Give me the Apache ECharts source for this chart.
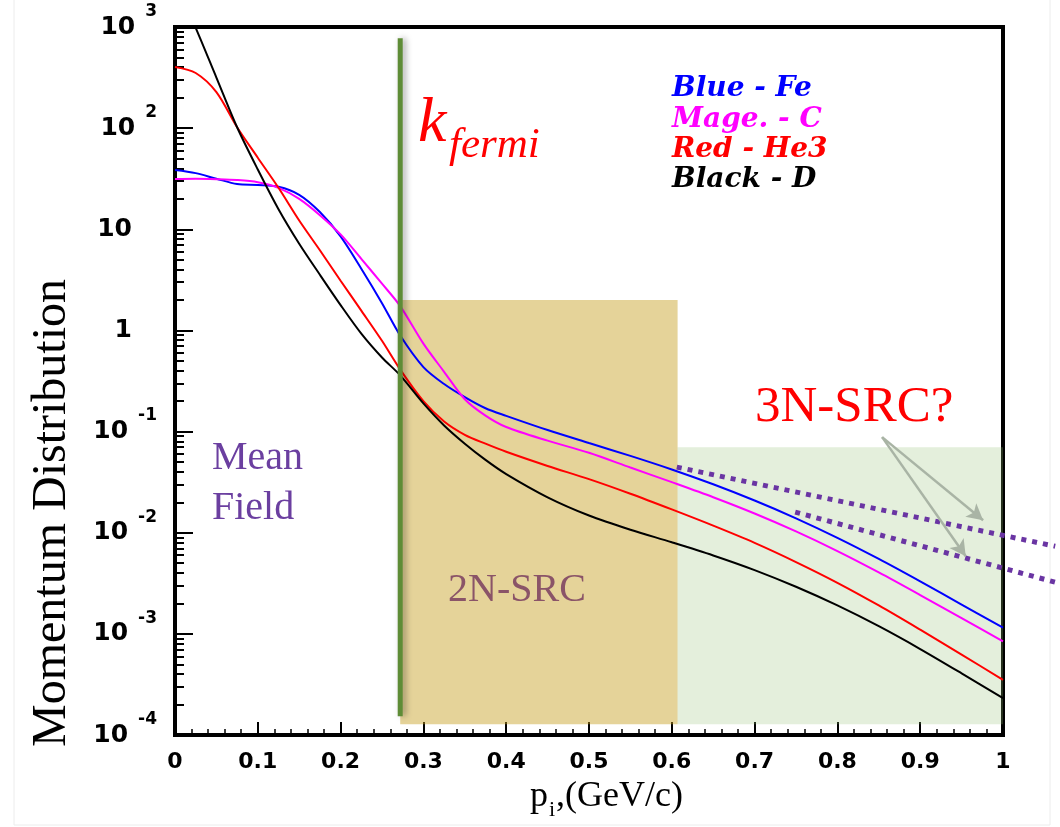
<!DOCTYPE html>
<html><head><meta charset="utf-8">
<script src="https://cdn.jsdelivr.net/npm/echarts@6/dist/echarts.min.js"></script>
<style>html,body{margin:0;padding:0;background:#fff}#c{width:1060px;height:827px}</style>
</head><body><div id="c"></div>
<script>
// ---- data ----
const xValues = [0,0.025,0.05,0.075,0.1,0.125,0.15,0.175,0.2,0.225,0.25,0.272,0.3,0.325,0.35,0.375,0.4,0.45,0.5,0.55,0.6,0.65,0.7,0.75,0.8,0.85,0.9,0.95,1.0];
const feBlue = [38.5,35.9,31.6,28,27.4,26.3,21.9,14.8,8.5,4.07,1.86,0.89,0.434,0.295,0.219,0.17,0.143,0.1035,0.077,0.0575,0.0422,0.0301,0.0208,0.01387,0.00889,0.0055,0.0033,0.00195,0.00115];
const cMagenta = [31.4,31.6,31.3,30.7,29.2,25.7,20,13.8,8.9,5.1,2.9,1.74,0.74,0.39,0.209,0.144,0.111,0.0813,0.0617,0.0441,0.0316,0.02244,0.01549,0.0103,0.00658,0.00405,0.00242,0.00143,0.000845];
const he3Red = [402,351,227,102,51,25.7,12.2,6.2,3.1,1.57,0.79,0.41,0.20,0.126,0.093,0.0759,0.0631,0.0457,0.0339,0.0243,0.0170,0.01175,0.00794,0.00513,0.0032,0.00191,0.0011,0.000624,0.000351];
const dBlack = [2800,980,316,102,39,15.8,7.2,3.55,1.78,0.93,0.54,0.36,0.19,0.115,0.0759,0.0525,0.038,0.0224,0.0148,0.0107,0.00804,0.00596,0.00427,0.00292,0.00191,0.00119,0.000708,0.000407,0.000231];
const kFermiLine = [[0.272,1.53e-4],[0.272,776]];
const twoNRegion = [[0.272,1.28e-4],[0.607,2.0]];
const threeNRegion = [[0.607,1.28e-4],[1.0,0.070]];
const dotted1 = [[0.606,0.0445],[1.063,0.00735]];
const dotted2 = [[0.749,0.0160],[1.066,0.00319]];
const arrowStart = [0.854,0.0881];
const arrowEnds = [[0.976,0.0133],[0.955,0.00586]];
const xTickLabels = ['0','0.1','0.2','0.3','0.4','0.5','0.6','0.7','0.8','0.9','1'];
const yDecades = [-4,-3,-2,-1,0,1,2,3];
const legendLines = ['Blue - Fe','Mage. - C','Red - He3','Black - D'];
const legendColors = ['#0000ff','#ff00ff','#ff0000','#000000'];

// minor tick positions (in exponent space) for the tick-only helper axis
const minorExp = [];
yDecades.slice(0,-1).forEach(d => { for (let k=2;k<=9;k++) minorExp.push(d + Math.log10(k)); });

const zip = ys => xValues.map((x,i)=>[x, ys[i]]);
const curve = (name, ys, color) => ({
  name, type:'line', data: zip(ys), smooth:0.3, showSymbol:false, symbol:'none',
  lineStyle:{color, width:2}, z:2, silent:true
});

const chart = echarts.init(document.getElementById('c'));
const serif = '"Liberation Serif","Times New Roman",serif';
const sans = '"DejaVu Sans",Arial,sans-serif';
const dotStyle = {color:'#6a35a3', width:5, type:[5,6], cap:'butt'};

chart.setOption({
  animation:false,
  backgroundColor:'#ffffff',
  grid:[
    {left:175, right:57, top:27, bottom:92, show:true, borderColor:'#000', borderWidth:4, outerBoundsMode:'none'},
    {left:175, width:886, top:27, bottom:92, show:false, outerBoundsMode:'none'}
  ],
  xAxis:[{
    type:'value', min:0, max:1, interval:0.1,
    axisLine:{show:true, onZero:false, lineStyle:{color:'#000', width:4}},
    axisTick:{show:true, inside:true, length:13, lineStyle:{color:'#000', width:2}},
    minorTick:{show:true, splitNumber:5, length:6, lineStyle:{color:'#000', width:1.5}},
    splitLine:{show:false},
    axisLabel:{margin:16, color:'#000', fontSize:22, fontWeight:'bold', fontFamily:sans,
      formatter: v => xTickLabels[Math.round(v*10)]}
  },{
    gridIndex:1, type:'value', min:0, max:1.07, show:false
  }],
  yAxis:[{
    type:'log', logBase:10, min:1e-4, max:1e3, splitNumber:7,
    axisLine:{show:true, onZero:false, lineStyle:{color:'#000', width:4}},
    axisTick:{show:true, inside:true, length:18, lineStyle:{color:'#000', width:2}},
    splitLine:{show:false},
    axisLabel:{margin:18, color:'#000',
      formatter: v => {
        const e = Math.round(Math.log10(v));
        if (e===0) return '{b|1}{sp|}';
        if (e===1) return '{b|10}{sp|}';
        return '{b|10}{s|'+e+'}';
      },
      rich:{
        b:{fontSize:25, fontWeight:'bold', fontFamily:sans, color:'#000', lineHeight:48, verticalAlign:'middle'},
        s:{fontSize:17, fontWeight:'bold', fontFamily:sans, color:'#000', lineHeight:17, verticalAlign:'top', padding:[0,0,0,10]},
        sp:{width:25}
      }
    }
  },{
    type:'value', min:-4, max:3, position:'left',
    axisLine:{show:false}, splitLine:{show:false}, axisLabel:{show:false},
    axisTick:{show:true, inside:true, length:9, customValues:minorExp, lineStyle:{color:'#000', width:2}}
  },{
    gridIndex:1, type:'log', logBase:10, min:1e-4, max:1e3, show:false
  }],
  series:[
    curve('Fe', feBlue, '#0000ff'),
    curve('C', cMagenta, '#ff00ff'),
    curve('He3', he3Red, '#ff0000'),
    curve('D', dBlack, '#000000'),
    {type:'line', xAxisIndex:1, yAxisIndex:2, data:dotted1, showSymbol:false, symbol:'none', z:2, silent:true, lineStyle:dotStyle},
    {type:'line', xAxisIndex:1, yAxisIndex:2, data:dotted2, showSymbol:false, symbol:'none', z:2, silent:true, lineStyle:dotStyle},
    {type:'line', data:[], z:3, silent:true,
      markArea:{silent:true, data:[
        [{coord:twoNRegion[0], itemStyle:{color:'rgba(197,157,28,0.45)'}},{coord:twoNRegion[1]}],
        [{coord:threeNRegion[0], itemStyle:{color:'rgba(147,191,115,0.25)'}},{coord:threeNRegion[1]}]
      ]}},
    {type:'line', data:kFermiLine, showSymbol:false, symbol:'none', z:5, silent:true,
      lineStyle:{color:'#5e8c36', width:5, shadowColor:'rgba(0,0,0,0.35)', shadowBlur:6, shadowOffsetX:3}},
    {type:'line', data:[], z:6, silent:true,
      markLine:{silent:true, symbol:['none','arrow'], symbolSize:[13,16], label:{show:false},
        lineStyle:{color:'#a9b4a5', width:2.5, type:'solid'},
        data: arrowEnds.map(e => [{coord:arrowStart},{coord:e}])}}
  ],
  graphic:[
    {type:'rect', shape:{x:14, y:-5, width:1036, height:830}, style:{fill:'none', stroke:'#ececec', lineWidth:1}, z:0},
    {type:'text', x:52, y:513, rotation:Math.PI/2, style:{text:'Momentum Distribution', x:0, y:0, font:'48px '+serif, fill:'#000', textAlign:'center', textVerticalAlign:'middle'}},
    {type:'text', x:530, y:797, style:{text:'p', font:'36px '+serif, fill:'#000', textAlign:'left', textVerticalAlign:'middle'}},
    {type:'text', x:549, y:810, style:{text:'i', font:'22px '+serif, fill:'#000', textAlign:'left', textVerticalAlign:'middle'}},
    {type:'text', x:556, y:797, style:{text:',(GeV/c)', font:'36px '+serif, fill:'#000', textAlign:'left', textVerticalAlign:'middle'}},
    {type:'text', x:418, y:124, z:10, style:{text:'k', font:'italic 64px '+serif, fill:'#ff0000', textAlign:'left', textVerticalAlign:'middle'}},
    {type:'text', x:449, y:146, z:10, style:{text:'fermi', font:'italic 43px '+serif, fill:'#ff0000', textAlign:'left', textVerticalAlign:'middle'}},
    ...legendLines.map((t,i)=>({type:'text', x:672, y:89+i*30.3, z:10, style:{text:t, font:'italic bold 28px "DejaVu Serif",serif', fill:legendColors[i], textAlign:'left', textVerticalAlign:'middle'}})),
    {type:'text', x:212, y:458, z:10, style:{text:'Mean', font:'40px '+serif, fill:'#6b3fa0', textAlign:'left', textVerticalAlign:'middle'}},
    {type:'text', x:212, y:508, z:10, style:{text:'Field', font:'40px '+serif, fill:'#6b3fa0', textAlign:'left', textVerticalAlign:'middle'}},
    {type:'text', x:448, y:590, z:10, style:{text:'2N-SRC', font:'40px '+serif, fill:'#8a5468', textAlign:'left', textVerticalAlign:'middle'}},
    {type:'text', x:755, y:408, z:10, style:{text:'3N-SRC?', font:'51px '+serif, fill:'#ff0000', textAlign:'left', textVerticalAlign:'middle'}}
  ]
});
</script></body></html>
